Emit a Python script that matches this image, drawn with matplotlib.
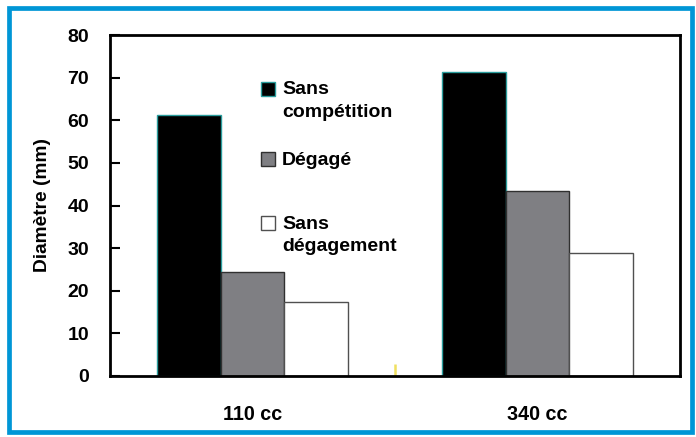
import matplotlib.pyplot as plt
import matplotlib.patches as mpatches
import numpy as np

plt.rcParams['font.family'] = ['Liberation Sans', 'DejaVu Sans']
plt.rcParams['font.weight'] = 'bold'

groups = ["110 cc", "340 cc"]
series = ["Sans\ncompétition", "Dégagé", "Sans\ndégagement"]
sans_competition = [61.3, 71.4]
degage = [24.4, 43.4]
sans_degagement = [17.4, 28.9]

values = [sans_competition, degage, sans_degagement]
fills = ["#000000", "#7f7f83", "#ffffff"]
edges = ["#2a9d9d", "#303030", "#505050"]

fig = plt.figure(figsize=(6.96, 4.37), dpi=100)
ax = fig.add_axes([110/696, 1-376/437, 570/696, 341/437])

x = np.arange(len(groups)) + 0.5
w = 0.223
for i, vals in enumerate(values):
    ax.bar(x + (i-1)*w, vals, w, color=fills[i], edgecolor=edges[i], linewidth=1.0, zorder=2)

ax.set_xlim(0, 2)
ax.set_ylim(0, 80)
ax.set_yticks(range(0, 81, 10))
ax.tick_params(axis='y', direction='in', length=7, width=1.5, labelsize=14, pad=15)
ax.set_xticks(x)
ax.set_xticklabels(groups, fontsize=14.2, fontweight='bold')
ax.tick_params(axis='x', length=0, pad=21)
ax.set_xticks([1], minor=True)
ax.tick_params(axis='x', which='minor', direction='in', length=9, width=1.8, color='#f0e060')
for s in ax.spines.values():
    s.set_linewidth(2)
ax.set_ylabel("Diamètre (mm)", fontsize=13.8, fontweight='bold', labelpad=12)

# legend, Excel style
leg_y = [88.5, 159, 223]
for i, lab in enumerate(series):
    yy = leg_y[i]
    fig.patches.append(mpatches.Rectangle((261/696, 1-(yy+7)/437), 14/696, 14/437,
                                          transform=fig.transFigure, facecolor=fills[i],
                                          edgecolor=edges[i], linewidth=1.0))
    fig.text(282/696, 1-(yy-7)/437, lab, fontsize=14, fontweight='bold', va='top',
             linespacing=1.42, transform=fig.transFigure)

# blue frame
fig.patches.append(mpatches.Rectangle((9/696, 5/437), 683/696, 424/437, transform=fig.transFigure,
                                      fill=False, edgecolor='#0096d6', linewidth=3.4))

fig.savefig("out.png", dpi=100)
